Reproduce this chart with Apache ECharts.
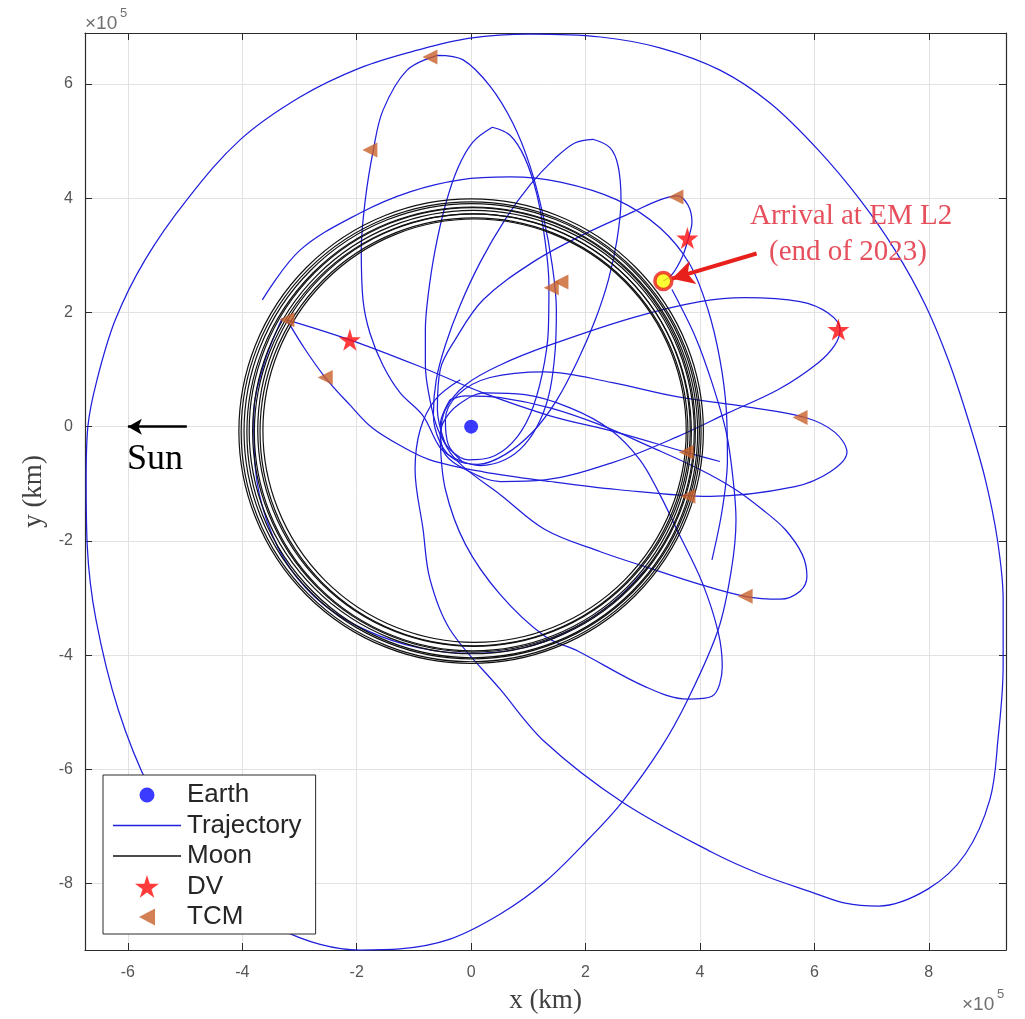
<!DOCTYPE html>
<html><head><meta charset="utf-8">
<script src="https://cdn.jsdelivr.net/npm/echarts@6/dist/echarts.min.js"></script>
<style>html,body{margin:0;padding:0;background:#fff}#c{width:1025px;height:1019px}</style>
</head><body><div id="c"></div><script>
// units: 10^5 km
const xTicks = [-6, -4, -2, 0, 2, 4, 6, 8];
const yTicks = [-8, -6, -4, -2, 0, 2, 4, 6];

const earth = [[0, 0]];
const dvPoints = [[-2.12, 1.52], [3.78, 3.30], [6.42, 1.70]];
const tcmPoints = [[-0.72, 6.47], [-1.77, 4.84], [-3.22, 1.87], [-2.55, 0.86], [1.40, 2.43], [1.57, 2.53],
  [3.58, 4.02], [5.75, 0.16], [3.76, -0.45], [3.79, -1.22], [4.79, -2.97]];
const arrival = [[3.36, 2.55]];

// Moon orbit rings: [centre x, centre y, radius]
const moonRings = [
  [0.06, -0.07, 3.70], [0.05, -0.09, 3.74], [0.05, -0.06, 3.78], [0.03, -0.10, 3.82], [0.04, -0.08, 3.86],
  [0.02, -0.07, 3.90], [0.02, -0.10, 3.94], [0.01, -0.08, 3.98], [0.00, -0.09, 4.02], [0.00, -0.08, 4.06]
];

const trajOuter = [[3.51,2.40],[3.92,1.57],[4.21,0.77],[4.46,-0.10],[4.58,-0.93],[4.63,-1.63],[4.55,-2.50],
  [4.32,-3.55],[3.79,-4.77],[3.30,-5.65],[2.64,-6.57],[2.08,-7.19],[1.29,-7.97],[0.51,-8.53],[-0.37,-8.97],
  [-1.24,-9.14],[-1.94,-9.16],[-2.64,-9.06],[-3.34,-8.79],[-4.13,-8.27],[-4.91,-7.48],[-5.61,-6.35],
  [-6.17,-4.95],[-6.56,-3.37],[-6.71,-2.10],[-6.73,-0.93],[-6.70,0],[-6.54,0.82],[-6.22,1.87],[-5.70,2.92],
  [-4.97,3.97],[-4.04,5.02],[-2.99,5.77],[-1.94,6.28],[-0.94,6.59],[-0.02,6.80],[1.03,6.87],[2.26,6.82],
  [3.30,6.63],[4.35,6.24],[5.23,5.66],[6.07,4.84],[6.80,3.97],[7.41,3.09],[7.94,2.13],[8.34,1.17],
  [8.69,0.12],[8.99,-0.93],[9.20,-1.98],[9.30,-3.02],[9.30,-4.20],[9.21,-5.47],[9.07,-6.52],[8.64,-7.48],
  [7.99,-8.09],[7.12,-8.39],[6.54,-8.34],[5.96,-8.15],[5.05,-7.83],[4.21,-7.45],[2.64,-6.57],[1.29,-5.52],
  [0.51,-4.60],[-0.37,-3.55],[-0.72,-2.67],[-0.84,-1.80],[-0.98,-0.75],[-0.89,-0.05],[-0.63,0.47],[-0.19,0.82]];
const trajPetal1 = [[-0.59,6.50],[-0.14,6.42],[0.33,5.96],[0.73,5.31],[1.03,4.56],[1.26,3.69],[1.42,2.81],
  [1.49,2.05],[1.47,1.35],[1.38,0.65],[1.21,0.12],[0.94,-0.31],[0.59,-0.58],[0.16,-0.68],[-0.23,-0.58],
  [-0.54,-0.37],[-0.84,0.19],[-1.24,0.59],[-1.54,1.07],[-1.77,1.64],[-1.89,2.22],[-1.92,3.09],[-1.85,3.97],
  [-1.71,4.84],[-1.54,5.54],[-1.12,6.24],[-0.59,6.50]];
const trajPetal2 = [[0.37,5.24],[0.68,5.10],[0.94,4.70],[1.15,4.06],[1.29,3.27],[1.36,2.48],[1.35,1.70],
  [1.24,0.91],[1.03,0.21],[0.72,-0.28],[0.33,-0.54],[-0.05,-0.58],[-0.37,-0.40],[-0.58,-0.05],[-0.72,0.47],
  [-0.80,1.08],[-0.80,1.70],[-0.75,2.31],[-0.63,3.09],[-0.45,3.88],[-0.23,4.53],[0.03,4.98],[0.37,5.24]];
const trajPetal3 = [[2.13,5.03],[2.43,4.88],[2.57,4.56],[2.62,3.97],[2.55,3.27],[2.40,2.57],[2.17,1.87],
  [1.87,1.17],[1.50,0.47],[1.08,-0.09],[0.59,-0.49],[0.12,-0.66],[-0.28,-0.58],[-0.54,-0.28],[-0.66,0.21],
  [-0.61,0.82],[-0.45,1.43],[-0.19,2.13],[0.16,2.88],[0.59,3.62],[1.03,4.23],[1.47,4.70],[1.82,4.97],[2.13,5.03]];
const trajLoopDV = [[-0.54,-0.14],[-0.45,0.30],[-0.10,0.73],[0.51,1.08],[1.38,1.43],[2.83,1.91],[4.00,2.19],
  [4.79,2.26],[5.75,2.19],[6.24,1.99],[6.45,1.70],[6.36,1.43],[6.07,1.12],[5.37,0.65],[4.49,0.24],
  [3.62,-0.17],[2.47,-0.63],[1.29,-0.93],[0.51,-0.96],[-0.10,-0.75],[-0.45,-0.49],[-0.54,-0.14]];
const trajLoopTcm = [[-3.22,1.87],[-2.90,1.35],[-2.55,0.86],[-2.12,0.38],[-1.73,-0.02],[-1.24,-0.33],
  [-0.72,-0.58],[0.21,-0.79],[1.38,-0.96],[2.55,-1.10],[4.18,-1.22],[5.66,-1.05],[6.28,-0.79],[6.57,-0.45],
  [6.36,-0.10],[5.84,0.16],[4.79,0.35],[3.62,0.52],[2.47,0.77],[1.29,0.96],[0.33,0.86],[-0.23,0.56],
  [-0.45,0.12],[-0.40,-0.31],[-0.16,-0.61]];
const trajFlyby = [[-3.22,1.87],[-2.12,1.52],[-0.94,1.07],[0.21,0.59],[1.38,0.19],[2.55,-0.10],[3.76,-0.45],[4.35,-0.61]];
const trajLoopLow = [[-0.37,0.47],[-0.54,0.03],[-0.42,-0.37],[-0.14,-0.70],[0.51,-1.19],[1.29,-1.80],[2.26,-2.19],
  [3.04,-2.45],[4.00,-2.76],[4.79,-2.97],[5.40,-3.02],[5.75,-2.88],[5.87,-2.62],[5.79,-2.24],[5.49,-1.80],
  [5.09,-1.45],[4.62,-1.10],[4.00,-0.75],[3.13,-0.35],[2.26,0.03],[1.38,0.33],[0.51,0.51],[-0.10,0.54],[-0.37,0.47]];
const trajLoopBottom = [[-0.54,-0.23],[-0.45,-1.10],[-0.10,-2.06],[0.51,-2.94],[1.29,-3.67],[1.87,-3.93],
  [3.04,-4.55],[3.79,-4.77],[4.21,-4.72],[4.39,-4.20],[4.32,-3.60],[4.04,-2.73],[3.62,-1.85],[3.30,-1.19],
  [2.95,-0.58],[2.43,-0.05],[1.73,0.33],[0.94,0.56],[0.24,0.59],[-0.23,0.38],[-0.49,0.07],[-0.54,-0.23]];
const trajFinal = [[-0.45,-0.31],[-0.59,0.30],[-0.54,1.00],[-0.28,1.52],[0.21,2.22],[1.08,2.88],[1.96,3.36],
  [2.83,3.76],[3.30,3.97],[3.60,4.04],[3.79,3.88],[3.86,3.58],[3.79,3.27],[3.69,2.97],[3.51,2.66],[3.36,2.55]];
const trajArcTop = [[-3.65,2.22],[-2.99,3.09],[-1.94,3.74],[-1.07,4.11],[-0.19,4.32],[0.68,4.37],[1.56,4.28],
  [2.55,3.97],[3.30,3.48],[3.83,2.83],[4.14,2.05],[4.35,1.17],[4.46,0.30],[4.48,-0.58],[4.39,-1.45],[4.21,-2.33]];
const trajRingArc = [[-3.30,1.90],[-3.62,1.10],[-3.80,0.20],[-3.77,-0.75],[-3.57,-1.65],[-3.17,-2.47],
  [-2.57,-3.12],[-1.82,-3.57],[-0.92,-3.87],[0,-3.97],[0.92,-3.87],[1.72,-3.57],[2.45,-3.10],[3.05,-2.50]];

const trajSegments = [trajOuter, trajPetal1, trajPetal2, trajPetal3, trajLoopDV, trajLoopTcm, trajFlyby,
  trajLoopLow, trajLoopBottom, trajFinal, trajArcTop, trajRingArc];

// annotation arrows [from, to]
const sunArrow = [[-4.97, 0], [-6.0, 0]];
const arrivalArrow = [[4.99, 3.03], [3.51, 2.59]];

const X_MIN = -6.75, X_MAX = 9.35, Y_MIN = -9.16, Y_MAX = 6.89;
const BLUE = '#1f1fdc';
const starPath = 'path://M50,0 L61,35 98,35 68,57 79,91 50,70 21,91 32,57 2,35 39,35z';
// legend icons drawn in a 70 x 24 box (corner specks fix the box)
const box = 'M0,0h0.05v0.05h-0.05z M69.95,23.95h0.05v0.05h-0.05z ';
const iconEarth = 'path://' + box + 'M42.5,12a7.5,7.5 0 1,1 -15,0a7.5,7.5 0 1,1 15,0z';
const iconLine = 'path://' + box + 'M1,11.3h68v1.5H1z';
const iconStar = 'path://' + box + 'M35,0.6 L37.75,9.35 47,9.35 39.5,14.85 42.25,23.35 35,18.1 27.75,23.35 30.5,14.85 23,9.35 32.25,9.35z';
const iconTcm = 'path://' + box + 'M27,12 L43,3.5 L43,20.5z';

const chart = echarts.init(document.getElementById('c'), null, {renderer: 'canvas', width: 1025, height: 1019});
const boxLine = {show: true, onZero: false, lineStyle: {color: '#2b2b2b', width: 1.2}};
const sans = 'Liberation Sans, Arial, sans-serif';

const trajSeries = trajSegments.map(seg => ({
  type: 'line', name: 'Trajectory', data: seg, symbol: 'none', smooth: 0.35,
  lineStyle: {color: BLUE, width: 1.25}, itemStyle: {color: BLUE}, z: 3, silent: true
}));

chart.setOption({
  animation: false,
  grid: {left: 85, top: 33, width: 921, height: 918, containLabel: false},
  xAxis: [{
    type: 'value', min: X_MIN, max: X_MAX, position: 'bottom',
    axisLine: boxLine,
    axisTick: {show: true, inside: true, length: 7, customValues: xTicks, lineStyle: {color: '#2b2b2b'}},
    axisLabel: {customValues: xTicks, color: '#555', fontSize: 16, margin: 15, fontFamily: sans,
      formatter: v => String(v)},
    splitLine: {show: true, lineStyle: {color: '#e2e2e2', width: 1}},
    name: 'x (km)', nameLocation: 'middle', nameGap: 37,
    nameTextStyle: {fontSize: 27, color: '#404040', fontFamily: 'Liberation Serif, serif'}
  }, {
    type: 'value', min: X_MIN, max: X_MAX, position: 'top',
    axisLine: boxLine,
    axisTick: {show: true, inside: true, length: 7, customValues: xTicks, lineStyle: {color: '#2b2b2b'}},
    axisLabel: {show: false}, splitLine: {show: false}
  }],
  yAxis: [{
    type: 'value', min: Y_MIN, max: Y_MAX, position: 'left',
    axisLine: boxLine,
    axisTick: {show: true, inside: true, length: 7, customValues: yTicks, lineStyle: {color: '#2b2b2b'}},
    axisLabel: {customValues: yTicks, color: '#555', fontSize: 16, margin: 12, fontFamily: sans,
      formatter: v => String(v)},
    splitLine: {show: true, lineStyle: {color: '#e2e2e2', width: 1}},
    name: 'y (km)', nameLocation: 'middle', nameGap: 36,
    nameTextStyle: {fontSize: 27, color: '#404040', fontFamily: 'Liberation Serif, serif'}
  }, {
    type: 'value', min: Y_MIN, max: Y_MAX, position: 'right',
    axisLine: boxLine,
    axisTick: {show: true, inside: true, length: 7, customValues: yTicks, lineStyle: {color: '#2b2b2b'}},
    axisLabel: {show: false}, splitLine: {show: false}
  }],
  legend: {
    orient: 'vertical', left: 103, top: 775,
    data: [
      {name: 'Earth', icon: iconEarth, iconRotate: 0},
      {name: 'Trajectory', icon: iconLine, iconRotate: 0},
      {name: 'Moon', icon: iconLine, iconRotate: 0},
      {name: 'DV', icon: iconStar, iconRotate: 0},
      {name: 'TCM', icon: iconTcm, iconRotate: 0}
    ],
    itemWidth: 70, itemHeight: 24, itemGap: 4.5, symbolKeepAspect: false,
    textStyle: {fontSize: 26, lineHeight: 24, color: '#262626', fontFamily: sans},
    backgroundColor: '#fff', borderColor: '#2b2b2b', borderWidth: 1, borderRadius: 0,
    padding: [7, 14, 4, 9], selectedMode: false
  },
  graphic: [
    {type: 'text', left: 85, top: 14, style: {text: '×10', font: '19px Liberation Sans', fill: '#707070'}},
    {type: 'text', left: 120, top: 7, style: {text: '5', font: '13px Liberation Sans', fill: '#707070'}},
    {type: 'text', left: 962, top: 995, style: {text: '×10', font: '19px Liberation Sans', fill: '#707070'}},
    {type: 'text', left: 997, top: 988, style: {text: '5', font: '13px Liberation Sans', fill: '#707070'}},
    {type: 'text', left: 127, top: 442, z: 10, style: {text: 'Sun', font: '36px Liberation Serif', fill: '#000'}},
    {type: 'text', left: 750, top: 202, z: 10, style: {text: 'Arrival at EM L2', font: '29px Liberation Serif', fill: '#e6505c'}},
    {type: 'text', left: 769, top: 238, z: 10, style: {text: '(end of 2023)', font: '29px Liberation Serif', fill: '#e6505c'}}
  ],
  series: [
    {
      type: 'custom', name: 'MoonRings', coordinateSystem: 'cartesian2d', data: moonRings, z: 4, silent: true,
      encode: {x: 0, y: 1},
      renderItem: (params, api) => {
        const c = api.coord([api.value(0), api.value(1)]);
        const r = api.size([api.value(2), 0])[0];
        return {type: 'circle', shape: {cx: c[0], cy: c[1], r: r},
          style: {fill: null, stroke: '#111', lineWidth: 1.2}};
      }
    },
    {type: 'line', name: 'Moon', data: [], symbol: 'none', lineStyle: {color: '#111', width: 1.5}, itemStyle: {color: '#111'}},
    ...trajSeries,
    {type: 'scatter', name: 'Earth', data: earth, symbol: 'circle', symbolSize: 14, itemStyle: {color: '#0a0aff'}, z: 5},
    {type: 'scatter', name: 'DV', data: dvPoints, symbol: starPath, symbolSize: 22, itemStyle: {color: '#ff0a0a'}, z: 6},
    {type: 'scatter', name: 'TCM', data: tcmPoints, symbol: 'triangle', symbolRotate: 90, symbolSize: 15,
      itemStyle: {color: '#c8602a'}, z: 6},
    {type: 'scatter', name: 'Arrival', data: arrival, symbol: 'circle', symbolSize: 17,
      itemStyle: {color: '#ffff00', borderColor: '#e8201c', borderWidth: 3.5}, z: 7,
      markLine: {
        silent: true, z: 8, label: {show: false}, animation: false,
        data: [
          [{coord: sunArrow[0], symbol: 'none', lineStyle: {color: '#000', width: 2.5, type: 'solid'}},
           {coord: sunArrow[1], symbol: 'arrow', symbolSize: [12, 14]}],
          [{coord: arrivalArrow[0], symbol: 'none', lineStyle: {color: '#e8201c', width: 4, type: 'solid'}},
           {coord: arrivalArrow[1], symbol: 'arrow', symbolSize: [18, 22]}]
        ]
      }}
  ]
});
</script></body></html>
